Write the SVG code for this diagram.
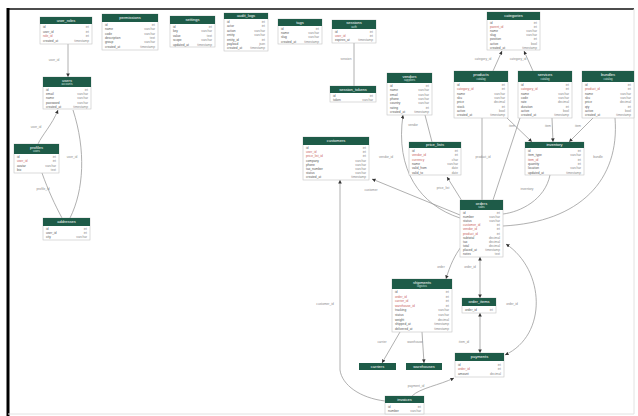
<svg xmlns="http://www.w3.org/2000/svg" width="638" height="416" viewBox="0 0 638 416">
<style>
.hd{fill:#1e5b48}
.bd{fill:#fff;stroke:#c4c4c4;stroke-width:.6}
.ht{fill:#fff;font-family:"Liberation Sans",Arial,sans-serif;font-size:4px;text-anchor:middle}
.hs{fill:#d8e8e2;font-family:"Liberation Sans",Arial,sans-serif;font-size:2.8px;text-anchor:middle}
.f{fill:#555;font-family:"Liberation Sans",Arial,sans-serif;font-size:3.2px}
.t{fill:#888;font-family:"Liberation Sans",Arial,sans-serif;font-size:3.2px;text-anchor:end}
.k{fill:#c9605a}
.e{fill:none;stroke:#969696;stroke-width:.75}
.lb{fill:#8a8a8a;font-family:"Liberation Sans",Arial,sans-serif;font-size:3.2px;text-anchor:middle}
</style>
<defs>
<marker id="ar" viewBox="0 0 6 6" refX="6" refY="3" markerWidth="3.6" markerHeight="3.6" markerUnits="userSpaceOnUse" orient="auto-start-reverse"><path d="M0,0L6,3L0,6z" fill="#333"/></marker>
</defs>
<rect width="638" height="416" fill="#fff"/>
<g id="frame">
<line x1="7" y1="9" x2="634" y2="9" stroke="#111" stroke-width="1.6"/>
<line x1="8" y1="8" x2="8" y2="416" stroke="#000" stroke-width="3"/>
<line x1="634" y1="9" x2="634" y2="414" stroke="#e2e2e2" stroke-width="1"/>
<line x1="8" y1="414" x2="634" y2="414" stroke="#e2e2e2" stroke-width="1"/>
</g>

<g id="connectors">
<path class="e" d="M68,44L68,77" marker-end="url(#ar)"/><text class="lb" x="54" y="61">user_id</text>
<path class="e" d="M58,110C52,125 42,135 38,144" marker-start="url(#ar)"/><text class="lb" x="36" y="128">user_id</text>
<path class="e" d="M73,110C86,150 84,190 70,218"/><text class="lb" x="72" y="158">user_id</text>
<path class="e" d="M42,173C48,190 55,205 62,218"/><text class="lb" x="43" y="190">profile_id</text>
<path class="e" d="M354,43L354,86"/><text class="lb" x="346" y="60">session</text>
<path class="e" d="M493,71L502,51" marker-end="url(#ar)"/><text class="lb" x="483" y="60">category_id</text>
<path class="e" d="M533,71L524,51" marker-end="url(#ar)"/><text class="lb" x="518" y="60">category_id</text>
<path class="e" d="M425,115L432,142"/><text class="lb" x="413" y="126">vendor</text>
<path class="e" d="M507,118L532,142" marker-end="url(#ar)"/><text class="lb" x="512" y="127">item</text>
<path class="e" d="M552,118L553,142" marker-end="url(#ar)"/><text class="lb" x="548" y="127">item</text>
<path class="e" d="M593,118L569,142" marker-end="url(#ar)"/><text class="lb" x="578" y="127">item</text>
<path class="e" d="M482,118L482,200"/><text class="lb" x="483" y="158">product_id</text>
<path class="e" d="M403,115C395,170 420,205 460,218" marker-start="url(#ar)"/><text class="lb" x="386" y="158">vendor_id</text>
<path class="e" d="M460,215L372,179" marker-end="url(#ar)"/><text class="lb" x="371" y="191">customer</text>
<path class="e" d="M462,201L447,177" marker-end="url(#ar)"/><text class="lb" x="443" y="189">price_list</text>
<path class="e" d="M520,118L493,200"/>
<path class="e" d="M550,175C545,200 520,212 503,214"/><text class="lb" x="527" y="190">inventory</text>
<path class="e" d="M615,118C620,180 580,222 503,226"/><text class="lb" x="598" y="158">bundle</text>
<path class="e" d="M480,257L480,298" marker-start="url(#ar)" marker-end="url(#ar)"/><text class="lb" x="470" y="268">order_id</text>
<path class="e" d="M480,313L480,353" marker-start="url(#ar)" marker-end="url(#ar)"/><text class="lb" x="464" y="343">item_id</text>
<path class="e" d="M446,279C450,265 455,255 461,247" marker-start="url(#ar)"/><text class="lb" x="441" y="268">order</text>
<path class="e" d="M400,332L382,363" marker-end="url(#ar)"/><text class="lb" x="382" y="343">carrier</text>
<path class="e" d="M422,332L424,363" marker-end="url(#ar)"/><text class="lb" x="415" y="343">warehouse</text>
<path class="e" d="M505,355C548,335 545,270 506,244" marker-start="url(#ar)" marker-end="url(#ar)"/><text class="lb" x="512" y="305">order_id</text>
<path class="e" d="M412,396C420,388 440,385 454,378" marker-end="url(#ar)"/><text class="lb" x="416" y="387">payment_id</text>
<path class="e" d="M340,180L340,370C342,385 360,398 385,401" marker-start="url(#ar)"/><text class="lb" x="325" y="305">customer_id</text>
</g>

<g id="t-user_roles"><rect class="bd" x="40" y="17" width="52" height="27"/><rect class="hd" x="40" y="17" width="52" height="7"/><text class="ht" x="66" y="21.8">user_roles</text>
<text class="f" x="43" y="28">id</text><text class="t" x="89" y="28">int</text>
<text class="f" x="43" y="32.5">user_id</text><text class="t" x="89" y="32.5">int</text>
<text class="f k" x="43" y="37">role_id</text><text class="t" x="89" y="37">int</text>
<text class="f" x="43" y="41.5">created_at</text><text class="t" x="89" y="41.5">timestamp</text></g>

<g id="t-permissions"><rect class="bd" x="102" y="14" width="56" height="36"/><rect class="hd" x="102" y="14" width="56" height="8"/><text class="ht" x="130" y="19.3">permissions</text>
<text class="f" x="105" y="26">id</text><text class="t" x="155" y="26">int</text>
<text class="f" x="105" y="30.3">name</text><text class="t" x="155" y="30.3">varchar</text>
<text class="f" x="105" y="34.6">code</text><text class="t" x="155" y="34.6">varchar</text>
<text class="f" x="105" y="38.9">description</text><text class="t" x="155" y="38.9">text</text>
<text class="f" x="105" y="43.2">group</text><text class="t" x="155" y="43.2">varchar</text>
<text class="f" x="105" y="47.5">created_at</text><text class="t" x="155" y="47.5">timestamp</text></g>

<g id="t-settings"><rect class="bd" x="170" y="16" width="45" height="31"/><rect class="hd" x="170" y="16" width="45" height="8"/><text class="ht" x="192.5" y="21.3">settings</text>
<text class="f" x="173" y="28">id</text><text class="t" x="212" y="28">int</text>
<text class="f" x="173" y="32.4">key</text><text class="t" x="212" y="32.4">varchar</text>
<text class="f" x="173" y="36.8">value</text><text class="t" x="212" y="36.8">text</text>
<text class="f" x="173" y="41.2">scope</text><text class="t" x="212" y="41.2">varchar</text>
<text class="f" x="173" y="45.6">updated_at</text><text class="t" x="212" y="45.6">timestamp</text></g>

<g id="t-audit_logs"><rect class="bd" x="224" y="13" width="44" height="38"/><rect class="hd" x="224" y="13" width="44" height="6"/><text class="ht" x="246" y="17.4">audit_logs</text>
<text class="f" x="227" y="23">id</text><text class="t" x="265" y="23">int</text>
<text class="f" x="227" y="27.4">actor</text><text class="t" x="265" y="27.4">int</text>
<text class="f" x="227" y="31.8">action</text><text class="t" x="265" y="31.8">varchar</text>
<text class="f" x="227" y="36.2">entity</text><text class="t" x="265" y="36.2">varchar</text>
<text class="f" x="227" y="40.6">entity_id</text><text class="t" x="265" y="40.6">int</text>
<text class="f" x="227" y="45">payload</text><text class="t" x="265" y="45">json</text>
<text class="f" x="227" y="49.4">created_at</text><text class="t" x="265" y="49.4">timestamp</text></g>

<g id="t-tags"><rect class="bd" x="278" y="19" width="44" height="25"/><rect class="hd" x="278" y="19" width="44" height="7"/><text class="ht" x="300" y="23.8">tags</text>
<text class="f" x="281" y="30">id</text><text class="t" x="319" y="30">int</text>
<text class="f" x="281" y="34.2">name</text><text class="t" x="319" y="34.2">varchar</text>
<text class="f" x="281" y="38.4">slug</text><text class="t" x="319" y="38.4">varchar</text>
<text class="f" x="281" y="42.6">created_at</text><text class="t" x="319" y="42.6">timestamp</text></g>

<g id="t-sessions"><rect class="bd" x="332" y="20" width="44" height="23"/><rect class="hd" x="332" y="20" width="44" height="9"/><text class="ht" x="354" y="24.2">sessions</text><text class="hs" x="354" y="27.8">auth</text>
<text class="f" x="335" y="33">id</text><text class="t" x="373" y="33">int</text>
<text class="f k" x="335" y="37">user_id</text><text class="t" x="373" y="37">int</text>
<text class="f" x="335" y="41">expires_at</text><text class="t" x="373" y="41">timestamp</text></g>

<g id="t-session_tokens"><rect class="bd" x="330" y="86" width="46" height="16"/><rect class="hd" x="330" y="86" width="46" height="7"/><text class="ht" x="353" y="90.8">session_tokens</text>
<text class="f" x="333" y="97">id</text><text class="t" x="373" y="97">int</text>
<text class="f" x="333" y="101">token</text><text class="t" x="373" y="101">varchar</text></g>

<g id="t-users"><rect class="bd" x="43" y="77" width="48" height="32"/><rect class="hd" x="43" y="77" width="48" height="10"/><text class="ht" x="67" y="81.5">users</text><text class="hs" x="67" y="85.3">accounts</text>
<text class="f" x="46" y="91">id</text><text class="t" x="88" y="91">int</text>
<text class="f" x="46" y="95.2">email</text><text class="t" x="88" y="95.2">varchar</text>
<text class="f" x="46" y="99.4">name</text><text class="t" x="88" y="99.4">varchar</text>
<text class="f" x="46" y="103.6">password</text><text class="t" x="88" y="103.6">varchar</text>
<text class="f" x="46" y="107.8">created_at</text><text class="t" x="88" y="107.8">timestamp</text></g>

<g id="t-profiles"><rect class="bd" x="14" y="144" width="45" height="29"/><rect class="hd" x="14" y="144" width="45" height="10"/><text class="ht" x="36.5" y="148.5">profiles</text><text class="hs" x="36.5" y="152.3">users</text>
<text class="f" x="17" y="158">id</text><text class="t" x="56" y="158">int</text>
<text class="f k" x="17" y="162.3">user_id</text><text class="t" x="56" y="162.3">int</text>
<text class="f" x="17" y="166.6">avatar</text><text class="t" x="56" y="166.6">varchar</text>
<text class="f" x="17" y="170.9">bio</text><text class="t" x="56" y="170.9">text</text></g>

<g id="t-addresses"><rect class="bd" x="43" y="218" width="47" height="22"/><rect class="hd" x="43" y="218" width="47" height="8"/><text class="ht" x="66.5" y="223.3">addresses</text>
<text class="f" x="46" y="230">id</text><text class="t" x="87" y="230">int</text>
<text class="f" x="46" y="234.2">user_id</text><text class="t" x="87" y="234.2">int</text>
<text class="f" x="46" y="238.4">city</text><text class="t" x="87" y="238.4">varchar</text></g>

<g id="t-categories"><rect class="bd" x="487" y="12" width="53" height="38"/><rect class="hd" x="487" y="12" width="53" height="8"/><text class="ht" x="513.5" y="17.3">categories</text>
<text class="f" x="490" y="24">id</text><text class="t" x="537" y="24">int</text>
<text class="f k" x="490" y="28.1">parent_id</text><text class="t" x="537" y="28.1">int</text>
<text class="f" x="490" y="32.2">name</text><text class="t" x="537" y="32.2">varchar</text>
<text class="f" x="490" y="36.3">slug</text><text class="t" x="537" y="36.3">varchar</text>
<text class="f" x="490" y="40.4">position</text><text class="t" x="537" y="40.4">int</text>
<text class="f" x="490" y="44.5">active</text><text class="t" x="537" y="44.5">bool</text>
<text class="f" x="490" y="48.6">created_at</text><text class="t" x="537" y="48.6">timestamp</text></g>

<g id="t-vendors"><rect class="bd" x="387" y="73" width="45" height="42"/><rect class="hd" x="387" y="73" width="45" height="10"/><text class="ht" x="409.5" y="77.5">vendors</text><text class="hs" x="409.5" y="81.3">suppliers</text>
<text class="f" x="390" y="87">id</text><text class="t" x="429" y="87">int</text>
<text class="f" x="390" y="91.3">name</text><text class="t" x="429" y="91.3">varchar</text>
<text class="f" x="390" y="95.6">email</text><text class="t" x="429" y="95.6">varchar</text>
<text class="f" x="390" y="99.9">phone</text><text class="t" x="429" y="99.9">varchar</text>
<text class="f" x="390" y="104.2">country</text><text class="t" x="429" y="104.2">varchar</text>
<text class="f" x="390" y="108.5">rating</text><text class="t" x="429" y="108.5">int</text>
<text class="f" x="390" y="112.8">created_at</text><text class="t" x="429" y="112.8">timestamp</text></g>

<g id="t-products"><rect class="bd" x="454" y="71" width="54" height="47"/><rect class="hd" x="454" y="71" width="54" height="11"/><text class="ht" x="481" y="75.8">products</text><text class="hs" x="481" y="79.8">catalog</text>
<text class="f" x="457" y="86">id</text><text class="t" x="505" y="86">int</text>
<text class="f k" x="457" y="90.3">category_id</text><text class="t" x="505" y="90.3">int</text>
<text class="f" x="457" y="94.6">name</text><text class="t" x="505" y="94.6">varchar</text>
<text class="f" x="457" y="98.9">sku</text><text class="t" x="505" y="98.9">varchar</text>
<text class="f" x="457" y="103.2">price</text><text class="t" x="505" y="103.2">decimal</text>
<text class="f" x="457" y="107.5">stock</text><text class="t" x="505" y="107.5">int</text>
<text class="f" x="457" y="111.8">active</text><text class="t" x="505" y="111.8">bool</text>
<text class="f" x="457" y="116.1">created_at</text><text class="t" x="505" y="116.1">timestamp</text></g>

<g id="t-services"><rect class="bd" x="518" y="71" width="54" height="47"/><rect class="hd" x="518" y="71" width="54" height="11"/><text class="ht" x="545" y="75.8">services</text><text class="hs" x="545" y="79.8">catalog</text>
<text class="f" x="521" y="86">id</text><text class="t" x="569" y="86">int</text>
<text class="f k" x="521" y="90.3">category_id</text><text class="t" x="569" y="90.3">int</text>
<text class="f" x="521" y="94.6">name</text><text class="t" x="569" y="94.6">varchar</text>
<text class="f" x="521" y="98.9">code</text><text class="t" x="569" y="98.9">varchar</text>
<text class="f" x="521" y="103.2">rate</text><text class="t" x="569" y="103.2">decimal</text>
<text class="f" x="521" y="107.5">duration</text><text class="t" x="569" y="107.5">int</text>
<text class="f" x="521" y="111.8">active</text><text class="t" x="569" y="111.8">bool</text>
<text class="f" x="521" y="116.1">created_at</text><text class="t" x="569" y="116.1">timestamp</text></g>

<g id="t-bundles"><rect class="bd" x="582" y="71" width="52" height="47"/><rect class="hd" x="582" y="71" width="52" height="11"/><text class="ht" x="608" y="75.8">bundles</text><text class="hs" x="608" y="79.8">catalog</text>
<text class="f" x="585" y="86">id</text><text class="t" x="631" y="86">int</text>
<text class="f k" x="585" y="90.3">product_id</text><text class="t" x="631" y="90.3">int</text>
<text class="f" x="585" y="94.6">name</text><text class="t" x="631" y="94.6">varchar</text>
<text class="f" x="585" y="98.9">sku</text><text class="t" x="631" y="98.9">varchar</text>
<text class="f" x="585" y="103.2">price</text><text class="t" x="631" y="103.2">decimal</text>
<text class="f" x="585" y="107.5">qty</text><text class="t" x="631" y="107.5">int</text>
<text class="f" x="585" y="111.8">active</text><text class="t" x="631" y="111.8">bool</text>
<text class="f" x="585" y="116.1">created_at</text><text class="t" x="631" y="116.1">timestamp</text></g>

<g id="t-customers"><rect class="bd" x="303" y="137" width="66" height="43"/><rect class="hd" x="303" y="137" width="66" height="8"/><text class="ht" x="336" y="142.3">customers</text>
<text class="f" x="306" y="149">id</text><text class="t" x="366" y="149">int</text>
<text class="f k" x="306" y="153.2">user_id</text><text class="t" x="366" y="153.2">int</text>
<text class="f k" x="306" y="157.4">price_list_id</text><text class="t" x="366" y="157.4">int</text>
<text class="f" x="306" y="161.6">company</text><text class="t" x="366" y="161.6">varchar</text>
<text class="f" x="306" y="165.8">phone</text><text class="t" x="366" y="165.8">varchar</text>
<text class="f" x="306" y="170">tax_number</text><text class="t" x="366" y="170">varchar</text>
<text class="f" x="306" y="174.2">status</text><text class="t" x="366" y="174.2">varchar</text>
<text class="f" x="306" y="178.4">created_at</text><text class="t" x="366" y="178.4">timestamp</text></g>

<g id="t-price_lists"><rect class="bd" x="409" y="142" width="52" height="33"/><rect class="hd" x="409" y="142" width="52" height="6"/><text class="ht" x="435" y="146.4">price_lists</text>
<text class="f" x="412" y="152">id</text><text class="t" x="458" y="152">int</text>
<text class="f k" x="412" y="156.3">vendor_id</text><text class="t" x="458" y="156.3">int</text>
<text class="f k" x="412" y="160.6">currency</text><text class="t" x="458" y="160.6">char</text>
<text class="f" x="412" y="164.9">name</text><text class="t" x="458" y="164.9">varchar</text>
<text class="f" x="412" y="169.2">valid_from</text><text class="t" x="458" y="169.2">date</text>
<text class="f" x="412" y="173.5">valid_to</text><text class="t" x="458" y="173.5">date</text></g>

<g id="t-inventory"><rect class="bd" x="525" y="142" width="59" height="33"/><rect class="hd" x="525" y="142" width="59" height="6"/><text class="ht" x="554.5" y="146.4">inventory</text>
<text class="f" x="528" y="152">id</text><text class="t" x="581" y="152">int</text>
<text class="f" x="528" y="156.3">item_type</text><text class="t" x="581" y="156.3">varchar</text>
<text class="f k" x="528" y="160.6">item_id</text><text class="t" x="581" y="160.6">int</text>
<text class="f" x="528" y="164.9">quantity</text><text class="t" x="581" y="164.9">int</text>
<text class="f" x="528" y="169.2">location</text><text class="t" x="581" y="169.2">varchar</text>
<text class="f" x="528" y="173.5">updated_at</text><text class="t" x="581" y="173.5">timestamp</text></g>

<g id="t-orders"><rect class="bd" x="460" y="200" width="43" height="57"/><rect class="hd" x="460" y="200" width="43" height="10"/><text class="ht" x="481.5" y="204.5">orders</text><text class="hs" x="481.5" y="208.3">sales</text>
<text class="f" x="463" y="214">id</text><text class="t" x="500" y="214">int</text>
<text class="f" x="463" y="218.1">number</text><text class="t" x="500" y="218.1">varchar</text>
<text class="f" x="463" y="222.2">status</text><text class="t" x="500" y="222.2">varchar</text>
<text class="f k" x="463" y="226.3">customer_id</text><text class="t" x="500" y="226.3">int</text>
<text class="f k" x="463" y="230.4">vendor_id</text><text class="t" x="500" y="230.4">int</text>
<text class="f k" x="463" y="234.5">product_id</text><text class="t" x="500" y="234.5">int</text>
<text class="f" x="463" y="238.6">subtotal</text><text class="t" x="500" y="238.6">decimal</text>
<text class="f" x="463" y="242.7">tax</text><text class="t" x="500" y="242.7">decimal</text>
<text class="f" x="463" y="246.8">total</text><text class="t" x="500" y="246.8">decimal</text>
<text class="f" x="463" y="250.9">placed_at</text><text class="t" x="500" y="250.9">timestamp</text>
<text class="f" x="463" y="255">notes</text><text class="t" x="500" y="255">text</text></g>

<g id="t-shipments"><rect class="bd" x="392" y="279" width="60" height="53"/><rect class="hd" x="392" y="279" width="60" height="10"/><text class="ht" x="422" y="283.5">shipments</text><text class="hs" x="422" y="287.3">logistics</text>
<text class="f" x="395" y="293">id</text><text class="t" x="449" y="293">int</text>
<text class="f k" x="395" y="297.6">order_id</text><text class="t" x="449" y="297.6">int</text>
<text class="f k" x="395" y="302.2">carrier_id</text><text class="t" x="449" y="302.2">int</text>
<text class="f k" x="395" y="306.8">warehouse_id</text><text class="t" x="449" y="306.8">int</text>
<text class="f" x="395" y="311.4">tracking</text><text class="t" x="449" y="311.4">varchar</text>
<text class="f" x="395" y="316">status</text><text class="t" x="449" y="316">varchar</text>
<text class="f" x="395" y="320.6">weight</text><text class="t" x="449" y="320.6">decimal</text>
<text class="f" x="395" y="325.2">shipped_at</text><text class="t" x="449" y="325.2">timestamp</text>
<text class="f" x="395" y="329.8">delivered_at</text><text class="t" x="449" y="329.8">timestamp</text></g>

<g id="t-order_items"><rect class="bd" x="462" y="298" width="34" height="15"/><rect class="hd" x="462" y="298" width="34" height="8"/><text class="ht" x="479" y="303.3">order_items</text>
<text class="f" x="465" y="311">order_id</text><text class="t" x="493" y="311">int</text></g>

<g id="t-carriers"><rect class="hd" x="359" y="363" width="37" height="7"/><text class="ht" x="377.5" y="367.8">carriers</text></g>

<g id="t-warehouses"><rect class="hd" x="406" y="363" width="36" height="7"/><text class="ht" x="424" y="367.8">warehouses</text></g>

<g id="t-payments"><rect class="bd" x="455" y="353" width="49" height="24"/><rect class="hd" x="455" y="353" width="49" height="8"/><text class="ht" x="479.5" y="358.3">payments</text>
<text class="f" x="458" y="365.5">id</text><text class="t" x="501" y="365.5">int</text>
<text class="f k" x="458" y="370">order_id</text><text class="t" x="501" y="370">int</text>
<text class="f" x="458" y="374.5">amount</text><text class="t" x="501" y="374.5">decimal</text></g>

<g id="t-invoices"><rect class="bd" x="385" y="396" width="39" height="18"/><rect class="hd" x="385" y="396" width="39" height="7"/><text class="ht" x="404.5" y="400.8">invoices</text>
<text class="f" x="388" y="407.5">id</text><text class="t" x="421" y="407.5">int</text>
<text class="f" x="388" y="412">number</text><text class="t" x="421" y="412">varchar</text></g>
</svg>
